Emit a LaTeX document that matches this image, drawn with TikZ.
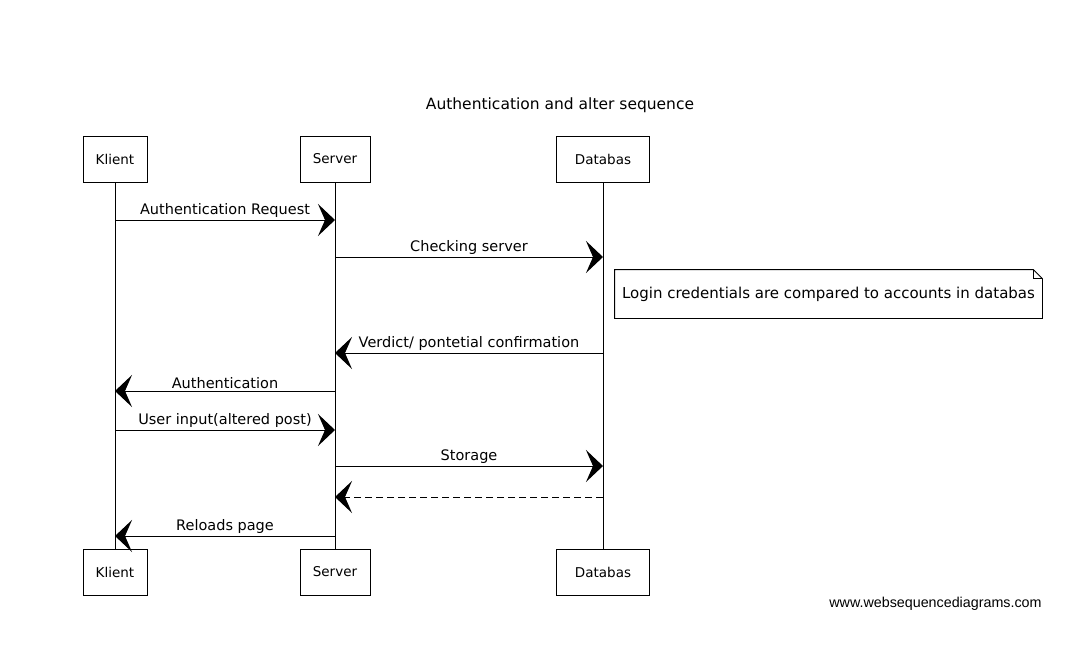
\documentclass[tikz,border=0pt]{standalone}
\usepackage{fontspec}
\setmainfont{DejaVu Sans}
\newfontfamily\wsdfont{Liberation Sans}
\usetikzlibrary{arrows.meta,positioning}

\begin{document}
\begin{tikzpicture}[x=1pt,y=-1pt,line width=0.8pt,
	actr/.style={draw,minimum height=46pt,inner sep=0pt,font=\fontsize{13.5}{16}\selectfont},
	msg/.style={line width=1pt,-{Stealth[length=17pt,width=32pt,inset=7pt]}},
	rply/.style={msg,dash pattern=on 7pt off 4pt},
	lbl/.style={above=1pt,inner sep=1pt,font=\fontsize{14.5}{17}\selectfont}]
	\useasboundingbox[fill=white] (0,0) rectangle (1083,658);
	\node[font=\fontsize{15.5}{18}\selectfont] (title) at (560,105) {Authentication and alter sequence};
	% participants, top and bottom
	\node[actr,minimum width=64pt] (kt) at (115,159) {Klient};
	\node[actr,minimum width=70pt] (st) at (335,159) {Server};
	\node[actr,minimum width=93pt] (dt) at (603,159) {Databas};
	\node[actr,minimum width=64pt] (kb) at (115,572) {Klient};
	\node[actr,minimum width=70pt] (sb) at (335,572) {Server};
	\node[actr,minimum width=93pt] (db) at (603,572) {Databas};
	\draw (kt) -- (kb);
	\draw (st) -- (sb);
	\draw (dt) -- (db);
	% messages
	\draw[msg] (kt |- 0,220) -- node[lbl] {Authentication Request} (st |- 0,220);
	\draw[msg] (st |- 0,257) -- node[lbl] {Checking server} (dt |- 0,257);
	\draw[msg] (dt |- 0,353) -- node[lbl] {Verdict/ pontetial confirmation} (st |- 0,353);
	\draw[msg] (st |- 0,391) -- node[lbl] {Authentication} (kt |- 0,391);
	\draw[msg] (kt |- 0,430) -- node[lbl] {User input(altered post)} (st |- 0,430);
	\draw[msg] (st |- 0,466) -- node[lbl] {Storage} (dt |- 0,466);
	\draw[rply] (dt |- 0,497) -- (st |- 0,497);
	\draw[msg] (st |- 0,536) -- node[lbl] {Reloads page} (kt |- 0,536);
	% note
	\node[minimum width=427pt,minimum height=48pt,inner sep=0pt,font=\fontsize{15}{18}\selectfont] (note) at (828.5,294) {Login credentials are compared to accounts in databas};
	\draw (note.south west) -- (note.north west) -- ([xshift=-9pt]note.north east) -- ([yshift=-9pt]note.north east) -- (note.south east) -- cycle;
	\draw ([xshift=-9pt]note.north east) -- ([xshift=-9pt,yshift=-9pt]note.north east) -- ([yshift=-9pt]note.north east);
	\node[font=\wsdfont\fontsize{14.3}{16}\selectfont,anchor=east,inner sep=0pt] (wsd) at (1042,604) {www.websequencediagrams.com};
\end{tikzpicture}
\end{document}
